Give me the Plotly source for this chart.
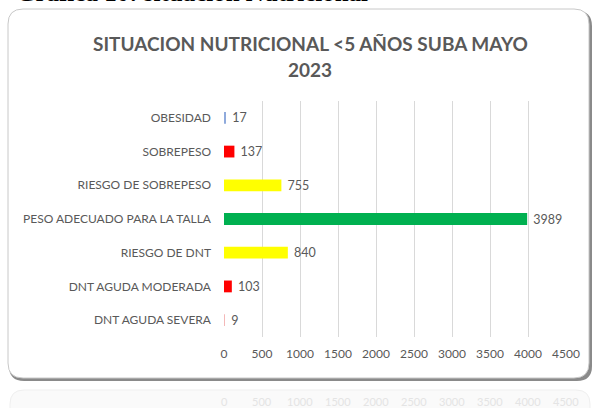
import plotly.graph_objects as go

categories = ["DNT AGUDA SEVERA", "DNT AGUDA MODERADA", "RIESGO DE DNT",
              "PESO ADECUADO PARA LA TALLA", "RIESGO DE SOBREPESO", "SOBREPESO", "OBESIDAD"]
values = [9, 103, 840, 3989, 755, 137, 17]
bar_colors = ["#F4B8B8", "#FF0000", "#FFFF00", "#00B050", "#FFFF00", "#FF0000", "#8FAADC"]
x_ticks = [0, 500, 1000, 1500, 2000, 2500, 3000, 3500, 4000, 4500]

W, H = 596, 408
L, R, T, B = 224, 30, 101, 71
PW, PH = W - L - R, H - T - B

def px(x):
    return (x - L) / PW

def py(y):
    return (H - B - y) / PH

def rrect(x0, y0, x1, y1, r):
    X0, X1 = px(x0), px(x1)
    Y0, Y1 = py(y0), py(y1)
    rx, ry = r / PW, r / PH
    return (f"M {X0+rx},{Y0} L {X1-rx},{Y0} Q {X1},{Y0} {X1},{Y0-ry} "
            f"L {X1},{Y1+ry} Q {X1},{Y1} {X1-rx},{Y1} L {X0+rx},{Y1} "
            f"Q {X0},{Y1} {X0},{Y1+ry} L {X0},{Y0-ry} Q {X0},{Y0} {X0+rx},{Y0} Z")

fig = go.Figure(go.Bar(
    y=categories, x=values, orientation="h",
    marker=dict(color=bar_colors, line=dict(width=0)),
    text=[str(v) for v in values], textposition="outside",
    texttemplate=" %{text}", constraintext="none",
    textfont=dict(family="Lato", size=12.5, color="#595959"),
    cliponaxis=False, width=0.35, hoverinfo="skip",
))

shapes = [
    dict(type="path", path=rrect(10, 390, 590, 440, 14), xref="paper", yref="paper",
         fillcolor="#fafafa", line=dict(color="#efefef", width=1), layer="below"),
    dict(type="path", path=rrect(9, 11, 592, 381, 15), xref="paper", yref="paper",
         fillcolor="#8a8a8a", line=dict(width=0), layer="below"),
    dict(type="path", path=rrect(8, 9, 589, 378, 15), xref="paper", yref="paper",
         fillcolor="#ffffff", line=dict(color="#c8c8c8", width=1), layer="below"),
]

annotations = [
    dict(text="<b>Gráfica 10: situación Nutricional</b>", x=px(14), y=py(4), xref="paper", yref="paper",
         xanchor="left", yanchor="bottom", showarrow=False, yshift=-4,
         font=dict(family="Liberation Serif", size=25, color="#000000")),
    dict(text="<b>SITUACION NUTRICIONAL <5 AÑOS SUBA MAYO</b>", x=px(310), y=py(44), xref="paper", yref="paper",
         xanchor="center", yanchor="middle", showarrow=False,
         font=dict(family="Lato", size=19, color="#595959")),
    dict(text="<b>2023</b>", x=px(310), y=py(70), xref="paper", yref="paper",
         xanchor="center", yanchor="middle", showarrow=False,
         font=dict(family="Lato", size=19, color="#595959")),
]
for t in x_ticks:
    annotations.append(dict(text=str(t), x=t, xref="x", y=py(401), yref="paper",
                            xanchor="center", yanchor="middle", showarrow=False,
                            font=dict(family="Lato", size=11, color="#e4e4e4")))

fig.update_layout(
    width=W, height=H,
    margin=dict(l=L, r=R, t=T, b=B, autoexpand=False),
    paper_bgcolor="#ffffff", plot_bgcolor="rgba(0,0,0,0)",
    showlegend=False, shapes=shapes, annotations=annotations,
    xaxis=dict(range=[0, 4500], tickvals=x_ticks, showgrid=True, gridcolor="#d9d9d9",
               gridwidth=1, zeroline=False, showline=False,
               tickfont=dict(family="Lato", size=12, color="#595959"),
               ticks="", ticklabelstandoff=8, fixedrange=True),
    yaxis=dict(showgrid=False, zeroline=False, showline=False, ticks="",
               tickfont=dict(family="Lato", size=12, color="#595959"),
               ticklabelstandoff=12, automargin=False, fixedrange=True),
)

fig.write_html("out.html", config={"displayModeBar": False},
               post_script="document.body.style.margin='0';")
